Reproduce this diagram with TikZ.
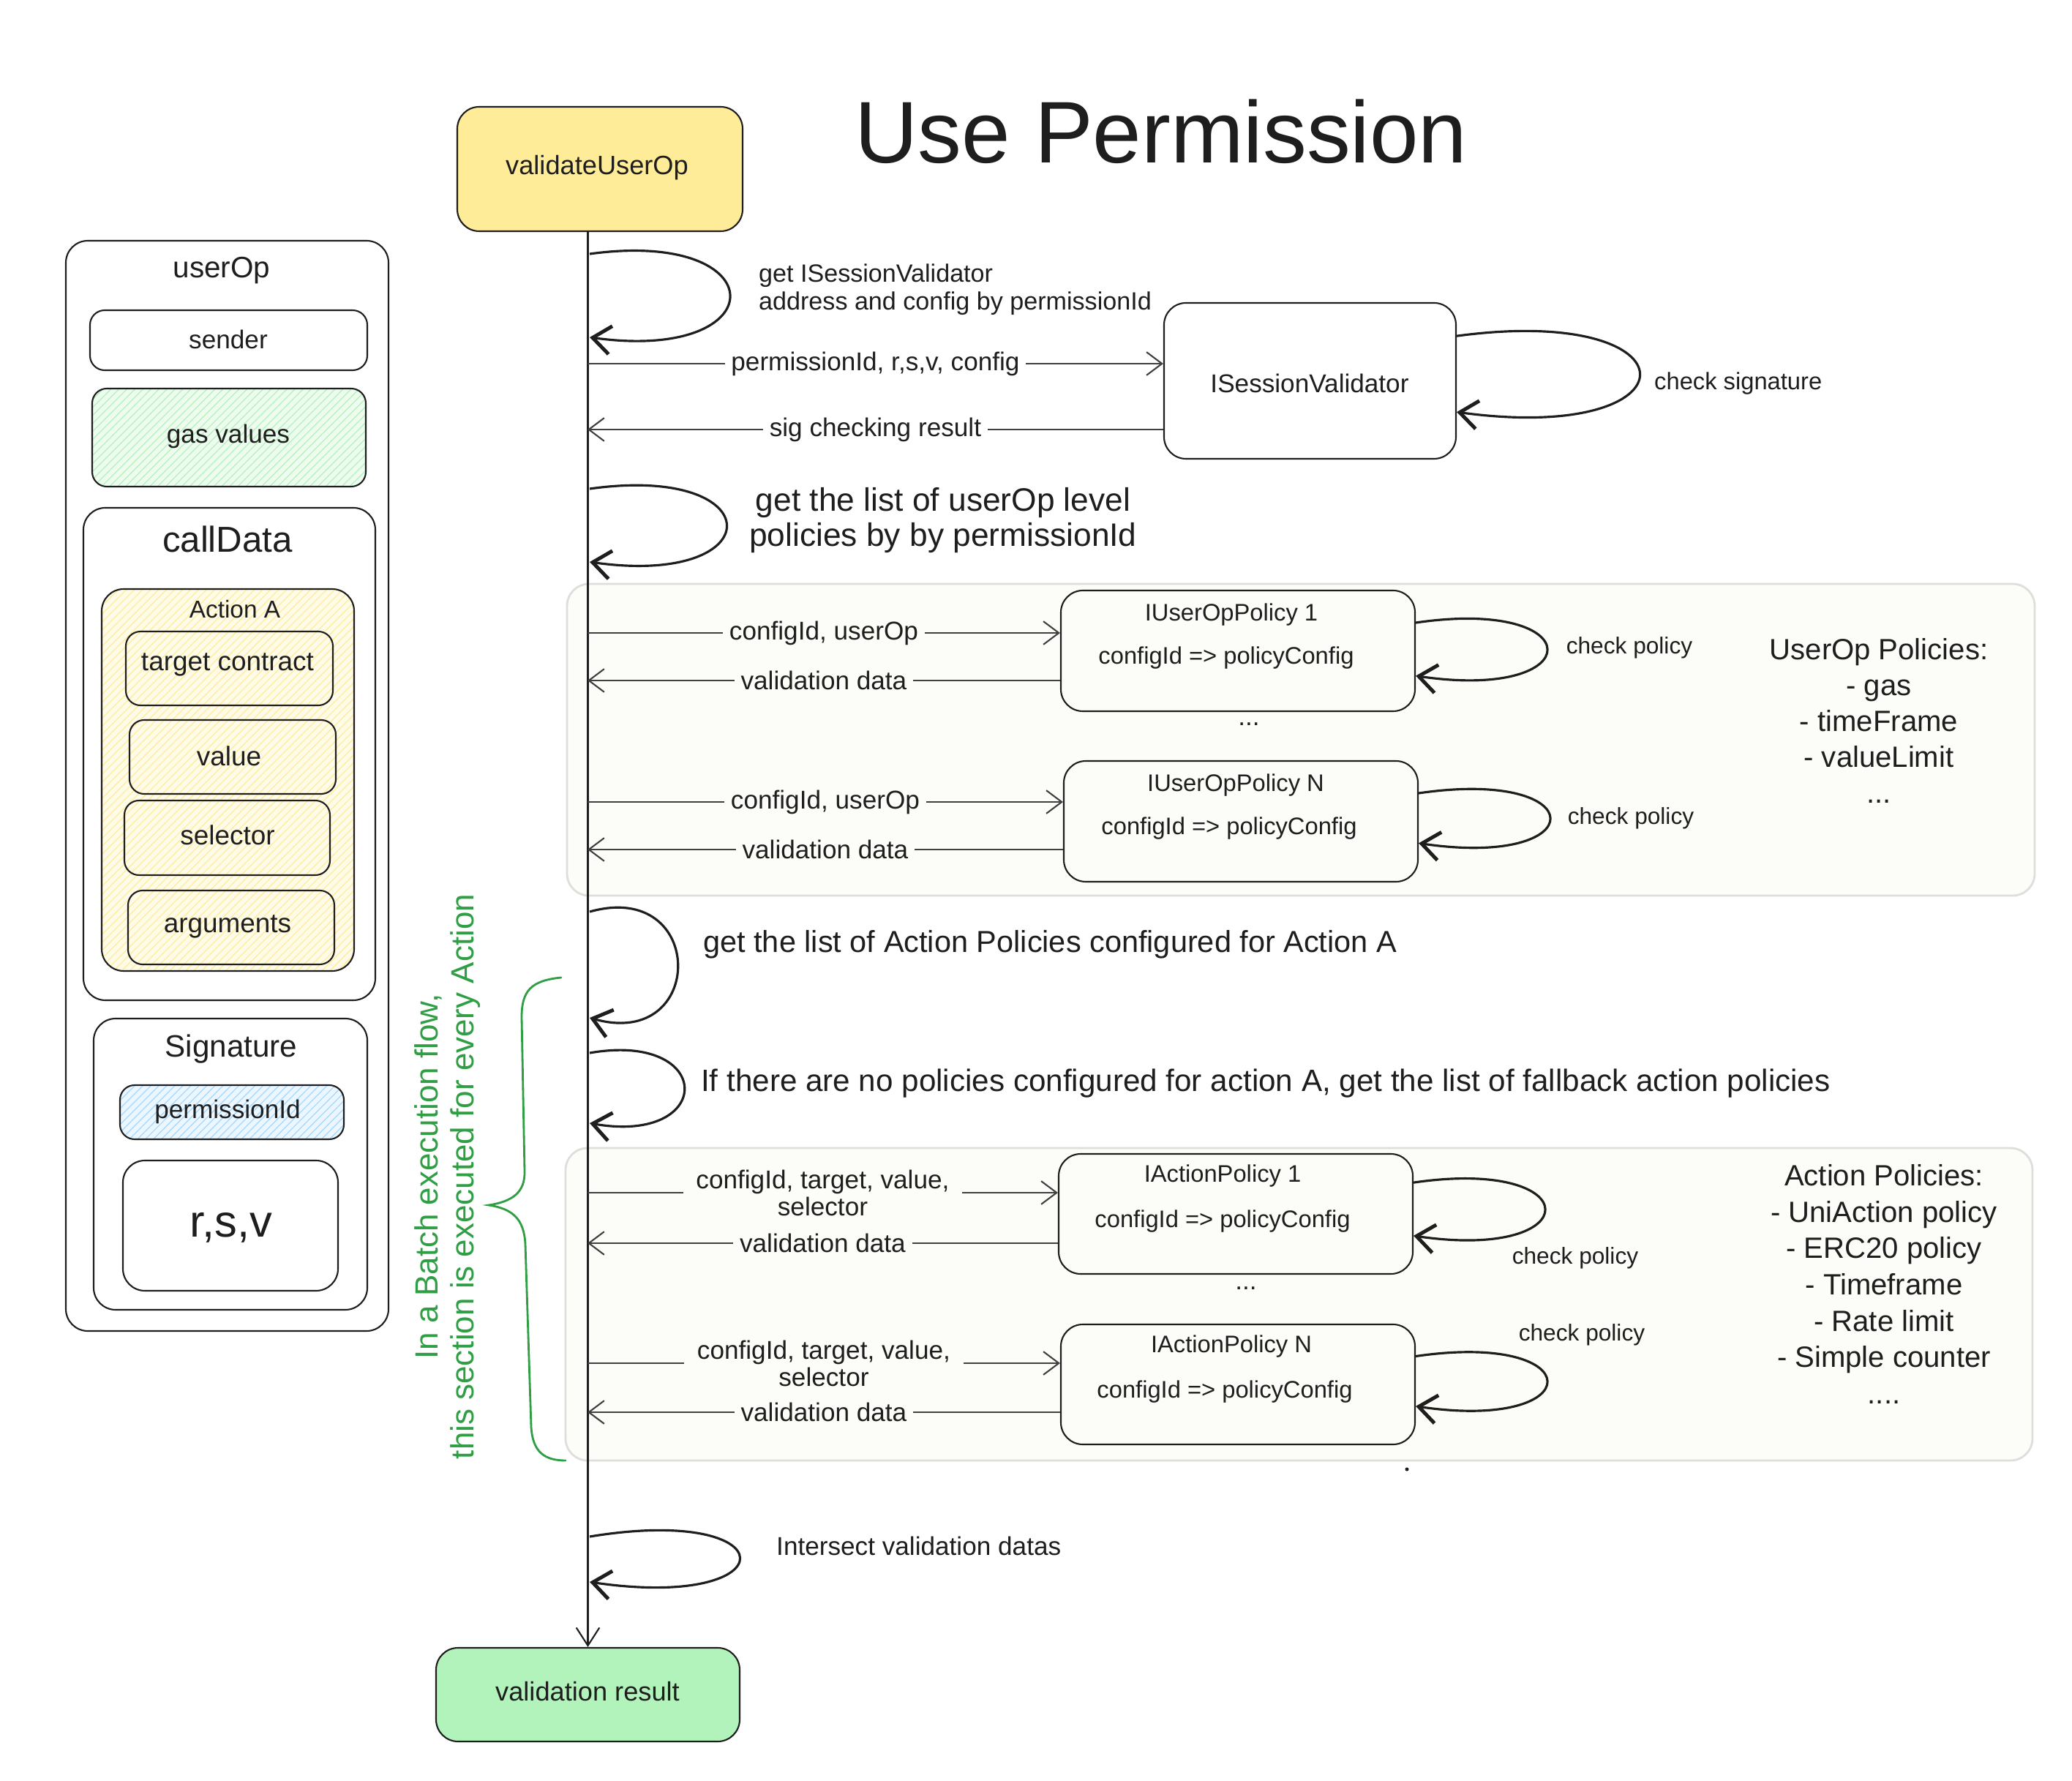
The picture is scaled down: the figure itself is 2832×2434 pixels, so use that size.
\documentclass[tikz,border=0pt]{standalone}
\usepackage{fontspec}
\setmainfont{Liberation Sans}
\usetikzlibrary{arrows.meta,fit,patterns.meta,calc}
\definecolor{exyellow}{HTML}{FFEC99}
\definecolor{exgreen}{HTML}{B2F2BB}
\definecolor{exblue}{HTML}{A5D8FF}
\definecolor{exdkgreen}{HTML}{2F9E44}
\definecolor{secbg}{RGB}{252,252,248}
\definecolor{secline}{RGB}{222,222,218}
\definecolor{ink}{HTML}{1E1E1E}
\newcommand{\fsz}[2]{\fontsize{#1}{#2}\selectfont}
\begin{document}
\begin{tikzpicture}[x=0.01cm,y=-0.01cm,
  txt/.style={text=ink,font=\fsz{10}{12},inner sep=1pt},
  box/.style={draw=ink,line width=0.6pt,rounded corners=0.3cm,inner sep=0pt},
  sbox/.style={box,rounded corners=0.2cm},
  lbl/.style={txt,fill=white,inner sep=2.5pt},
  slbl/.style={lbl,fill=secbg},
  msg/.style={draw=ink!85,line width=0.6pt,-{Straight Barb[length=6pt,width=9pt]}},
  life/.style={draw=ink,line width=0.6pt,-{Straight Barb[length=7pt,width=9pt]}},
  selfloop/.style={draw=ink,line width=0.9pt,-{Straight Barb[length=7pt,width=11pt,line width=1.4pt]}},
  section/.style={draw=secline,fill=secbg,line width=0.8pt,rounded corners=0.3cm,inner sep=0pt},
  hatch/.style={preaction={fill=#1!22},pattern={Lines[angle=45,distance=2.2pt,line width=0.35pt]},pattern color=#1},
  boxtxt/.style={txt,font=\fsz{9.3}{11}},
  fldtxt/.style={txt,font=\fsz{10.5}{12}},
  chk/.style={txt,font=\fsz{9}{11}},
]
\fill[white] (0,0) rectangle (2832,2434);

% title
\node[txt,font=\fsz{34}{40}] (title) at (1587,180) {Use Permission};

% ---------------- left panel ----------------
\node[box,fit={(90,329)(531,1819)}] (uo) {};
\node[txt,font=\fsz{11.5}{13}] (uotitle) at (303,370) {userOp};
\node[sbox,fit={(123,424)(502,506)}] (sender) {};
\node[txt] (sendert) at (312,464) {sender};
\node[sbox,hatch=exgreen,fit={(126,531)(500,665)}] (gas) {};
\node[txt] (gast) at (312,596) {gas values};
\node[box,fit={(114,694)(513,1367)}] (cd) {};
\node[txt,font=\fsz{14}{16}] (cdtitle) at (311,737) {callData};
\node[box,hatch=exyellow,fit={(139,805)(484,1327)}] (aa) {};
\node[txt,font=\fsz{9.5}{11}] (aatitle) at (321,833) {Action A};
\node[sbox,fit={(172,863)(455,964)}] (tc) {};
\node[fldtxt] (tct) at (311,908) {target contract};
\node[sbox,fit={(177,984)(459,1085)}] (val) {};
\node[fldtxt] (valt) at (313,1033) {value};
\node[sbox,fit={(170,1094)(451,1196)}] (sel) {};
\node[fldtxt] (selt) at (311,1141) {selector};
\node[sbox,fit={(175,1217)(457,1318)}] (arg) {};
\node[fldtxt] (argt) at (311,1266) {arguments};
\node[box,fit={(128,1392)(502,1790)}] (sig) {};
\node[txt,font=\fsz{12}{14}] (sigtitle) at (316,1434) {Signature};
\node[sbox,hatch=exblue,fit={(164,1483)(470,1557)}] (pid) {};
\node[txt] (pidt) at (311,1519) {permissionId};
\node[box,fit={(168,1586)(462,1764)}] (rsv) {};
\node[txt,font=\fsz{17.5}{20}] (rsvt) at (316,1678) {r,s,v};

% ---------------- sections ----------------
\node[section,fit={(775,798)(2781,1224)}] (sec1) {};
\node[section,fit={(773,1569)(2778,1996)}] (sec2) {};

% ---------------- main nodes ----------------
\node[box,fill=exyellow,fit={(625,146)(1015,316)}] (vu) {};
\node[txt,font=\fsz{10.3}{12}] (vut) at (816,229) {validateUserOp};
\node[box,fill=exgreen,fit={(596,2252)(1011,2380)}] (vr) {};
\node[txt,font=\fsz{10.3}{12}] (vrt) at (803,2312) {validation result};
\node[box,fit={(1591,414)(1990,627)}] (isv) {};
\node[txt] (isvt) at (1790,524) {ISessionValidator};

\node[box,fit={(1450,807)(1934,972)}] (up1) {};
\node[boxtxt] (up1t) at (1683,840) {IUserOpPolicy 1};
\node[boxtxt] (up1c) at (1676,899) {configId => policyConfig};
\node[txt] (dots1) at (1707,990) {...};
\node[box,fit={(1454,1040)(1938,1205)}] (upN) {};
\node[boxtxt] (upNt) at (1689,1073) {IUserOpPolicy N};
\node[boxtxt] (upNc) at (1680,1132) {configId => policyConfig};

\node[box,fit={(1447,1577)(1931,1741)}] (ap1) {};
\node[boxtxt] (ap1t) at (1671,1607) {IActionPolicy 1};
\node[boxtxt] (ap1c) at (1671,1669) {configId => policyConfig};
\node[txt] (dots2) at (1703,1761) {...};
\node[box,fit={(1450,1810)(1934,1974)}] (apN) {};
\node[boxtxt] (apNt) at (1683,1840) {IActionPolicy N};
\node[boxtxt] (apNc) at (1674,1902) {configId => policyConfig};

% ---------------- lifeline ----------------
\draw[life] (vu.south -| vr.north) -- (vr.north);

% coordinates on lifeline
\coordinate (m1) at (803,497);
\coordinate (m2) at (803,587);
\coordinate (u1a) at (803,865);
\coordinate (u1b) at (803,930);
\coordinate (uNa) at (803,1096);
\coordinate (uNb) at (803,1161);
\coordinate (a1a) at (803,1630);
\coordinate (a1b) at (803,1699);
\coordinate (aNa) at (803,1863);
\coordinate (aNb) at (803,1930);

\coordinate (l1s) at (806,347);  \coordinate (l1e) at (806,461);
\coordinate (l2s) at (806,668);  \coordinate (l2e) at (806,768);
\coordinate (l3s) at (806,1246); \coordinate (l3e) at (806,1391);
\coordinate (l4s) at (806,1439); \coordinate (l4e) at (806,1535);
\coordinate (l5s) at (806,2100); \coordinate (l5e) at (806,2162);

% messages
\draw[msg] (m1) -- (m1 -| isv.west) node[lbl,midway] {permissionId, r,s,v, config};
\draw[msg] (m2 -| isv.west) -- (m2) node[lbl,midway] {sig checking result};
\draw[msg] (u1a) -- (u1a -| up1.west) node[slbl,midway] {configId, userOp};
\draw[msg] (u1b -| up1.west) -- (u1b) node[slbl,midway] {validation data};
\draw[msg] (uNa) -- (uNa -| upN.west) node[slbl,midway] {configId, userOp};
\draw[msg] (uNb -| upN.west) -- (uNb) node[slbl,midway] {validation data};
\draw[msg] (a1a) -- (a1a -| ap1.west) node[slbl,midway,align=center,font=\fsz{10}{10.5},inner xsep=5pt] {configId, target, value,\\selector};
\draw[msg] (a1b -| ap1.west) -- (a1b) node[slbl,midway] {validation data};
\draw[msg] (aNa) -- (aNa -| apN.west) node[slbl,midway,align=center,font=\fsz{10}{10.5},inner xsep=5pt] {configId, target, value,\\selector};
\draw[msg] (aNb -| apN.west) -- (aNb) node[slbl,midway] {validation data};

% self loops on lifeline
\draw[selfloop] (l1s) .. controls +(255,-35) and +(255,35) .. (l1e);
\draw[selfloop] (l2s) .. controls +(249,-35) and +(249,35) .. (l2e);
\draw[selfloop] (l3s) .. controls +(160,-45) and +(160,45) .. (l3e);
\draw[selfloop] (l4s) .. controls +(172,-30) and +(172,30) .. (l4e);
\draw[selfloop] (l5s) .. controls +(273,-45) and +(273,40) .. (l5e);

% self loops on boxes
\draw[selfloop] (isv.17) .. controls +(333,-45) and +(333,45) .. (isv.-12);
\draw[selfloop] (up1.9.5) .. controls +(239,-35) and +(239,35) .. (up1.-8.3);
\draw[selfloop] (upN.9) .. controls +(239,-35) and +(239,35) .. (upN.-7.8);
\draw[selfloop] (ap1.10) .. controls +(239,-35) and +(239,35) .. (ap1.-7);
\draw[selfloop] (apN.9.6) .. controls +(239,-35) and +(239,35) .. (apN.-7.3);

% loop texts
\node[txt,anchor=west,align=left,font=\fsz{9.7}{10.8}] (t1) at (1033,396) {get ISessionValidator\\address and config by permissionId};
\node[txt,anchor=west,font=\fsz{9.3}{11}] (t2) at (2257,524) {check signature};
\node[txt,align=center,font=\fsz{12.6}{13.4}] (t3) at (1289,711) {get the list of userOp level\\policies by by permissionId};
\node[chk] (cp1) at (2227,885) {check policy};
\node[chk] (cp2) at (2229,1118) {check policy};
\node[chk] (cp3) at (2153,1719) {check policy};
\node[chk] (cp4) at (2162,1824) {check policy};
\node[txt,anchor=west,font=\fsz{11.8}{14}] (t4) at (957,1291) {get the list of Action Policies configured for Action A};
\node[txt,anchor=west,font=\fsz{12}{14}] (t5) at (954,1481) {If there are no policies configured for action A, get the list of fallback action policies};
\node[txt,anchor=west,font=\fsz{10}{12}] (t6) at (1057,2113) {Intersect validation datas};

% policy lists
\node[txt,align=center,font=\fsz{11.4}{14}] (uplist) at (2568,985) {UserOp Policies:\\- gas\\- timeFrame\\- valueLimit\\...};
\node[txt,align=center,font=\fsz{11.4}{14.1}] (aplist) at (2575,1755) {Action Policies:\\- UniAction policy\\- ERC20 policy\\- Timeframe\\- Rate limit\\- Simple counter\\....};

% stray dot
\fill[ink] (1923,2008) circle (2.5);

% green brace and note
\draw[exdkgreen,line width=0.8pt,line cap=round]
  (767,1336) .. controls (725,1340) and (713,1355) .. (713,1390)
  -- (717,1600) .. controls (718,1630) and (700,1642) .. (668,1647)
  .. controls (700,1652) and (716,1665) .. (718,1700)
  -- (726,1950) .. controls (728,1985) and (745,1996) .. (773,1996);
\node[txt,text=exdkgreen,rotate=90,align=center,font=\fsz{12.5}{14}] (batch) at (612,1608) {In a Batch execution flow,\\this section is executed for every Action};

\end{tikzpicture}
\end{document}
